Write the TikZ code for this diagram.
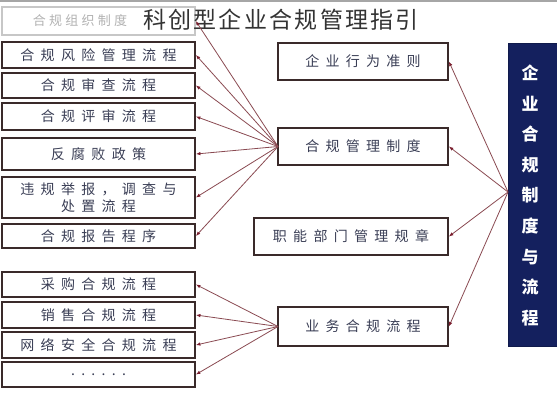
\documentclass[tikz,border=0pt]{standalone}
\usepackage{fontspec}
\setmainfont{Noto Sans CJK SC}
\newfontfamily\cjk{Noto Sans CJK SC}
\usetikzlibrary{arrows.meta}
\definecolor{bordc}{HTML}{3A2A2A}
\definecolor{arrc}{HTML}{8A4A52}
\definecolor{tipc}{HTML}{7A1E2E}
\definecolor{navy}{HTML}{14205E}
\definecolor{txtc}{HTML}{3A3E55}
\tikzset{
  x=1pt, y=-1pt,
  box/.style={draw=bordc, line width=1.8pt, fill=white, inner sep=0pt,
    font=\fontsize{14}{17}\selectfont\addfontfeature{LetterSpace=45}, text=txtc, align=center},
  fadebox/.style={draw=black!22, line width=1.6pt, fill=white, inner sep=0pt},
  fadetext/.style={font=\fontsize{13}{16}\selectfont\addfontfeature{LetterSpace=25}, text=black!30, inner sep=0pt},
  conn/.style={draw=arrc, line width=0.8pt, -{Latex[length=4.5pt,width=3.5pt,color=tipc]}},
}
\begin{document}
\begin{tikzpicture}
\useasboundingbox (0,0) rectangle (557,400);
\fill[white] (0,0) rectangle (557,400);
\draw[black!35, line width=2pt] (0,1) -- (557,1);
% left boxes
\node[fadebox, minimum width=193pt, minimum height=28pt] (l0) at (98.5,21) {};
\node[fadetext] (l0t) at (80,21) {合规组织制度};
\node[box, minimum width=193pt, minimum height=26pt] (l1) at (98.5,55) {合规风险管理流程};
\node[box, minimum width=193pt, minimum height=25pt] (l2) at (98.5,85.5) {合规审查流程};
\node[box, minimum width=193pt, minimum height=27pt] (l3) at (98.5,116.5) {合规评审流程};
\node[box, minimum width=193pt, minimum height=32pt] (l4) at (98.5,154) {反腐败政策};
\node[box, minimum width=193pt, minimum height=41pt] (l5) at (98.5,197.5) {违规举报，调查与\\处置流程};
\node[box, minimum width=193pt, minimum height=24pt] (l6) at (98.5,236) {合规报告程序};
\node[box, minimum width=193pt, minimum height=25pt] (l7) at (98.5,284.5) {采购合规流程};
\node[box, minimum width=193pt, minimum height=26pt] (l8) at (98.5,315) {销售合规流程};
\node[box, minimum width=193pt, minimum height=26pt] (l9) at (98.5,345) {网络安全合规流程};
\node[box, minimum width=193pt, minimum height=25pt] (l10) at (98.5,374.5) {......};
% middle boxes
\node[box, minimum width=170pt, minimum height=37pt] (m1) at (363,61.5) {企业行为准则};
\node[box, minimum width=170pt, minimum height=37pt] (m2) at (363,146.5) {合规管理制度};
\node[box, minimum width=194pt, minimum height=37pt] (m3) at (351,236.5) {职能部门管理规章};
\node[box, minimum width=170pt, minimum height=39pt] (m4) at (363,326.5) {业务合规流程};
% title
\node[font=\fontsize{23}{26}\selectfont\addfontfeature{LetterSpace=10}, text=black!80, inner sep=0pt] (title) at (281,20) {科创型企业合规管理指引};
% right dark box
\node[fill=navy, draw=navy!80!black, line width=1pt, minimum width=49pt, minimum height=303pt, inner sep=0pt] (r) at (532.5,194.5) {};
\foreach \c [count=\i from 0] in {企,业,合,规,制,度,与,流,程}
  \node[text=white, font=\fontsize{17}{17}\selectfont\bfseries, inner sep=0pt] (rc\i) at (530,73+30.6*\i) {\c};
\coordinate (rp) at (508,192);
\coordinate (mp) at (278,146.5);
\coordinate (bp) at (278,326.5);
% connectors
\foreach \m in {m1,m2,m3,m4} \draw[conn] (rp) -- (\m.east);
\foreach \l in {l0,l1,l2,l3,l4,l5,l6} \draw[conn] (mp) -- (\l.east);
\foreach \l in {l7,l8,l9,l10} \draw[conn] (bp) -- (\l.east);
\end{tikzpicture}
\end{document}
